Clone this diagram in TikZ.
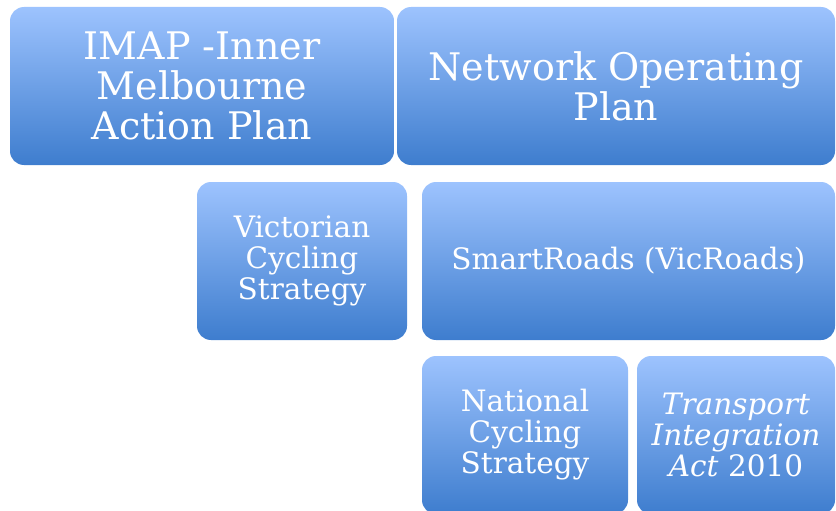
\documentclass[tikz,border=0pt]{standalone}
\usepackage{xcolor}
\usepackage{fontspec}
\setmainfont{DejaVu Serif}
\usepackage{tikz}
\usetikzlibrary{positioning}
\definecolor{boxTop}{RGB}{157, 195, 254}
\definecolor{boxBottom}{RGB}{62, 125, 206}

\begin{document}
\begin{tikzpicture}[
    x=1pt, y=-1pt,
    block/.style={
        rectangle,
        rounded corners=14pt,
        top color=boxTop,
        bottom color=boxBottom,
        text=white,
        align=center,
        inner sep=0pt,
        minimum height=158pt,
        minimum width=#1
    },
    bigtext/.style={font=\fontsize{38}{40}\selectfont},
    smalltext/.style={font=\fontsize{29.5}{31}\selectfont}
]
    \useasboundingbox (0,0) rectangle (836,511);
    \clip (0,0) rectangle (836,511);

    % Top row
    \node[block=384pt, bigtext] (imap) at (202,86) {IMAP -Inner\\Melbourne\\Action Plan};
    \node[block=438pt, bigtext] (nop) at (616,86) {Network Operating\\Plan};

    % Middle row
    \node[block=210pt, smalltext] (vcs) at (302,261) {Victorian\\Cycling\\Strategy};
    \node[block=413pt, smalltext] (smart) at (628.5,261) {SmartRoads (VicRoads)};

    % Bottom row
    \node[block=206pt, smalltext] (ncs) at (525,435) {National\\Cycling\\Strategy};
    \node[block=198pt, smalltext] (tia) at (736,435) {\textit{Transport}\\\textit{Integration}\\\textit{Act} 2010};

\end{tikzpicture}
\end{document}
